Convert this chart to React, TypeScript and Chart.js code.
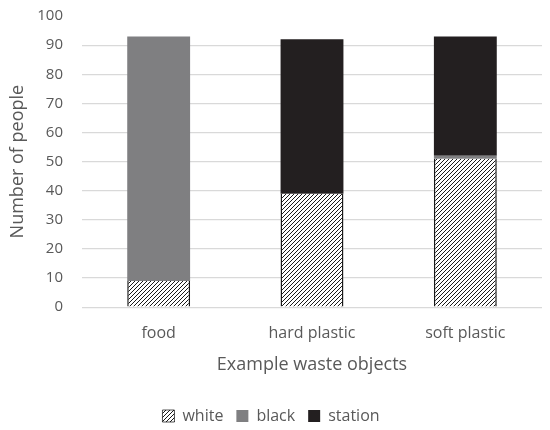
import React, { useEffect, useRef } from "react";
import { Chart, registerables } from "chart.js";

Chart.register(...registerables);

const categories = ["food", "hard plastic", "soft plastic"];
const whiteValues = [9, 39, 51];
const blackValues = [84, 0, 1];
const stationValues = [0, 53, 41];
const seriesNames = ["white", "black", "station"];
const yTicks = [0, 10, 20, 30, 40, 50, 60, 70, 80, 90, 100];

function makeHatch(): CanvasPattern | string {
  const c = document.createElement("canvas");
  const s = 4;
  c.width = s;
  c.height = s;
  const g = c.getContext("2d");
  if (!g) return "#ffffff";
  g.fillStyle = "#ffffff";
  g.fillRect(0, 0, s, s);
  g.strokeStyle = "#1a1a1a";
  g.lineWidth = 1.0;
  g.beginPath();
  g.moveTo(0, s);
  g.lineTo(s, 0);
  g.moveTo(-1, 1);
  g.lineTo(1, -1);
  g.moveTo(s - 1, s + 1);
  g.lineTo(s + 1, s - 1);
  g.stroke();
  const p = g.createPattern(c, "repeat");
  return p || "#ffffff";
}

export default function App() {
  const ref = useRef<HTMLCanvasElement | null>(null);
  useEffect(() => {
    document.body.style.margin = "0";
    if (!ref.current) return;
    const hatch = makeHatch();
    const font = "'Open Sans', 'Noto Sans', sans-serif";
    const textColor = "#595959";
    const chart = new Chart(ref.current, {
      type: "bar",
      data: {
        labels: categories,
        datasets: [
          {
            label: seriesNames[0],
            data: whiteValues,
            backgroundColor: hatch as any,
            borderColor: "#1a1a1a",
            borderWidth: { left: 1.5, right: 1.5, top: 0, bottom: 0 } as any,
            borderSkipped: false,
          },
          {
            label: seriesNames[1],
            data: blackValues,
            backgroundColor: "#7f7f81",
            borderWidth: 0,
          },
          {
            label: seriesNames[2],
            data: stationValues,
            backgroundColor: "#231f20",
            borderWidth: 0,
          },
        ],
      },
      options: {
        animation: false,
        responsive: false,
        maintainAspectRatio: false,
        layout: { padding: { left: 0, right: 8, top: 0, bottom: -4 } },
        datasets: {
          bar: { categoryPercentage: 1, barPercentage: 0.41 },
        } as any,
        scales: {
          x: {
            stacked: true,
            grid: { display: false },
            border: { display: false },
            ticks: { color: textColor, font: { family: font, size: 16 }, padding: 9 },
            title: {
              display: true,
              text: "Example waste objects",
              color: textColor,
              font: { family: font, size: 18 },
              padding: { top: 2, bottom: 19 },
            },
          },
          y: {
            stacked: true,
            min: 0,
            max: 100,
            afterBuildTicks: (axis: any) => {
              axis.ticks = yTicks.map((v) => ({ value: v }));
            },
            afterFit: (scale: any) => {
              scale.width = 82;
              scale.paddingTop = 16;
              scale.paddingBottom = 0;
            },
            grid: {
              color: (ctx: any) => (ctx.tick && ctx.tick.value === 100 ? "rgba(0,0,0,0)" : "#d9d9d9"),
              drawTicks: false,
              lineWidth: 1.2,
            },
            border: { display: false },
            ticks: { color: textColor, font: { family: font, size: 15 }, padding: 19 },
            title: {
              display: true,
              text: "Number of people",
              color: textColor,
              font: { family: font, size: 18 },
              padding: { top: 7, bottom: 0 },
            },
          },
        },
        plugins: {
          legend: {
            position: "bottom",
            labels: {
              color: textColor,
              font: { family: font, size: 16 },
              boxWidth: 12,
              boxHeight: 12,
              padding: 13,
            },
          },
          tooltip: { enabled: false },
        },
      },
    });
    return () => chart.destroy();
  }, []);
  return (
    <div style={{ width: 550, height: 430 }}>
      <canvas ref={ref} width={550} height={430} style={{ width: 550, height: 430, display: "block" }} />
    </div>
  );
}
